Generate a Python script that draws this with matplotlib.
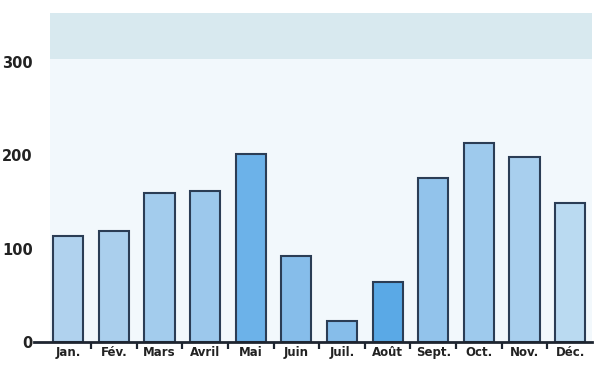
import matplotlib
matplotlib.use("Agg")
import matplotlib.pyplot as plt
from matplotlib.patches import Rectangle
from matplotlib.transforms import blended_transform_factory

months = ["Jan.", "Fév.", "Mars", "Avril", "Mai", "Juin", "Juil.", "Août",
          "Sept.", "Oct.", "Nov.", "Déc."]
rainfall = [113, 119, 160, 162, 201, 92, 23, 64, 176, 213, 198, 149]
y_ticks = [0, 100, 200, 300]

bar_colors = ["#b0d2ee", "#aacfed", "#a3cced", "#9cc8ec", "#6cb2e9", "#86bdea",
              "#86bdea", "#5aa9e6", "#92c3eb", "#9ecaed", "#a8cfee", "#badaf1"]

label_font = ["Liberation Sans Narrow", "DejaVu Sans"]

fig = plt.figure(figsize=(5.98, 3.73), dpi=100)
fig.patch.set_facecolor("white")
ax = fig.add_axes([0.057, 0.083, 0.933, 0.882])
ax.set_facecolor("white")

x = list(range(len(months)))
ax.set_xlim(-0.75, 11.48)
ax.set_ylim(0, 352)

# tinted panel behind the bars, with a pale header band on top
band_tf = blended_transform_factory(ax.transAxes, ax.transData)
ax.add_patch(Rectangle((0.028, 0), 0.972, 303, transform=band_tf,
                       facecolor="#f2f8fc", edgecolor="none", zorder=0))
ax.add_patch(Rectangle((0.028, 303), 0.972, 49, transform=band_tf,
                       facecolor="#d8e9ef", edgecolor="none", zorder=0))

ax.bar(x, rainfall, width=0.66, color=bar_colors, edgecolor="#2b3d55",
       linewidth=1.5, zorder=3)

for s in ["top", "right", "left"]:
    ax.spines[s].set_visible(False)
ax.spines["bottom"].set_color("#1e2530")
ax.spines["bottom"].set_linewidth(2.0)
ax.spines["bottom"].set_zorder(4)

ax.set_xticks([i + 0.5 for i in x[:-1]])
ax.set_xticklabels([])
ax.set_xticks(x, minor=True)
ax.set_xticklabels(months, minor=True, fontsize=8.5, fontweight="bold",
                   family=label_font, color="#222222")
ax.tick_params(axis="x", which="major", direction="out", length=5, width=1.6,
               color="#1e2530")
ax.tick_params(axis="x", which="minor", length=0, pad=3)

ax.set_yticks(y_ticks)
ax.set_yticklabels([str(v) for v in y_ticks], fontsize=10.5, fontweight="bold",
                   family=label_font, color="#222222")
ax.tick_params(axis="y", length=0, pad=1)

fig.savefig("out.png", dpi=100)
